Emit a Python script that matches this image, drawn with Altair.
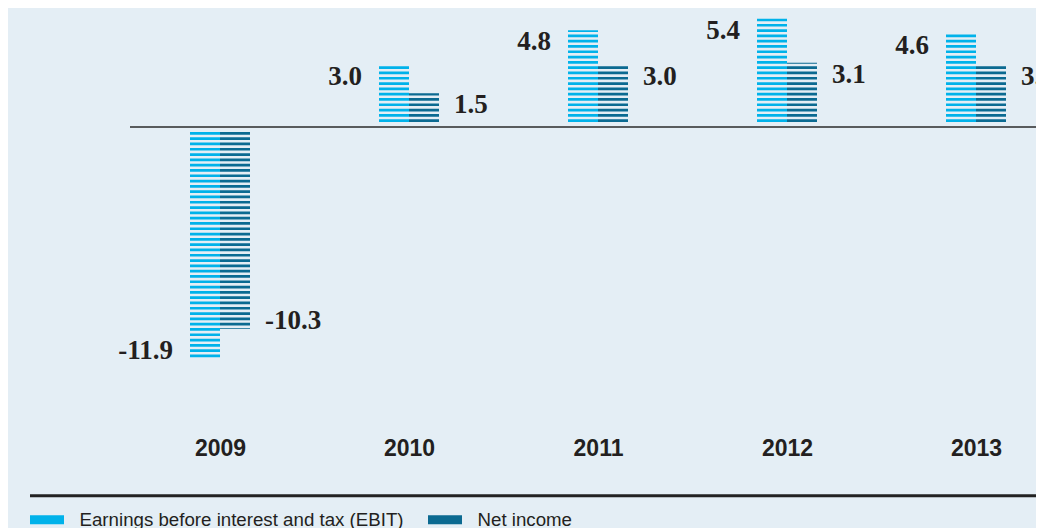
import altair as alt
import pandas as pd

years = ["2009", "2010", "2011", "2012", "2013"]
ebit = [-11.9, 3.0, 4.8, 5.4, 4.6]
net_income = [-10.3, 1.5, 3.0, 3.1, 3.0]
series_names = ["Earnings before interest and tax (EBIT)", "Net income"]
series_colors = ["#00b2ea", "#0b6a91"]

rows = []
for yr, e, n in zip(years, ebit, net_income):
    rows.append({"year": yr, "series": series_names[0], "value": e, "base": 0.0, "label": f"{e:.1f}"})
    rows.append({"year": yr, "series": series_names[1], "value": n, "base": 0.0, "label": f"{n:.1f}"})
df = pd.DataFrame(rows)

W, H = 1028, 420
K = 19.1      # pixels per unit
ZERO = 119.0  # pixel row of zero inside the plot
TXT = "#231f20"

y_scale = alt.Scale(domain=[(ZERO - H) / K, ZERO / K], nice=False, zero=False)
x_scale = alt.Scale(type="point", domain=years, range=[212, 968], padding=0)
color_scale = alt.Scale(domain=series_names, range=series_colors)

x_axis = alt.Axis(title=None, domain=False, ticks=False, tickSize=0, labelAngle=0,
                  labelFont="Liberation Sans", labelFontWeight="bold",
                  labelFontSize=23, labelPadding=9, labelColor=TXT, grid=False)
legend = alt.Legend(orient="none", legendX=17.5, legendY=490, direction="horizontal",
                    title=None, symbolType="M-1,0L1,0", symbolSize=1156,
                    symbolStrokeWidth=9, symbolDash=[1, 0], labelFont="Liberation Sans",
                    labelFontSize=18.7, labelColor=TXT, labelOffset=11,
                    columnPadding=5, padding=0, labelLimit=0)

X = alt.X("year:N", scale=x_scale, axis=x_axis, sort=years)

layers = []
for si, sname in enumerate(series_names):
    for positive in (True, False):
        off = -5 if positive else 5
        xo = -15 if si == 0 else 15
        cond = f"datum.series == '{sname}' && datum.value {'>=' if positive else '<'} 0"
        bar = alt.Chart(df).transform_filter(cond).mark_rule(
            strokeWidth=30, strokeDash=[2.7, 2.6], strokeCap="butt",
            xOffset=xo, yOffset=off, y2Offset=off
        ).encode(
            x=X,
            y=alt.Y("base:Q", scale=y_scale, axis=None),
            y2="value:Q",
            color=alt.Color("series:N", scale=color_scale, legend=legend),
        )
        layers.append(bar)

for si, sname in enumerate(series_names):
    for positive in (True, False):
        cond = f"datum.series == '{sname}' && datum.value {'>=' if positive else '<'} 0"
        txt = alt.Chart(df).transform_filter(cond).mark_text(
            font="Liberation Serif", fontSize=27, fontWeight="bold", color=TXT,
            baseline="alphabetic",
            align="right" if si == 0 else "left",
            dx=-47 if si == 0 else 45,
            dy=15 if positive else 5,
        ).encode(
            x=X,
            y=alt.Y("value:Q", scale=y_scale, axis=None),
            text="label:N",
        )
        layers.append(txt)

zero_line = alt.Chart(pd.DataFrame({"v": [0.0]})).mark_rule(
    color="#2a2a2a", strokeWidth=1.6
).encode(
    y=alt.Y("v:Q", scale=y_scale, axis=None),
    x=alt.value(122), x2=alt.value(W),
)
bottom_line = alt.Chart(pd.DataFrame({"v": [0.0]})).mark_rule(
    color="#222222", strokeWidth=3
).encode(
    y=alt.value(487.7), x=alt.value(22), x2=alt.value(W),
)
layers += [zero_line, bottom_line]

chart = alt.layer(*layers).properties(
    width=W, height=H,
    autosize=alt.AutoSizeParams(type="none"),
    padding={"left": 0, "top": 0, "right": 0, "bottom": 100},
).configure(background="#e4eef5").configure_view(strokeWidth=0)

chart.save("out.html", embed_options={"renderer": "svg", "actions": False})
